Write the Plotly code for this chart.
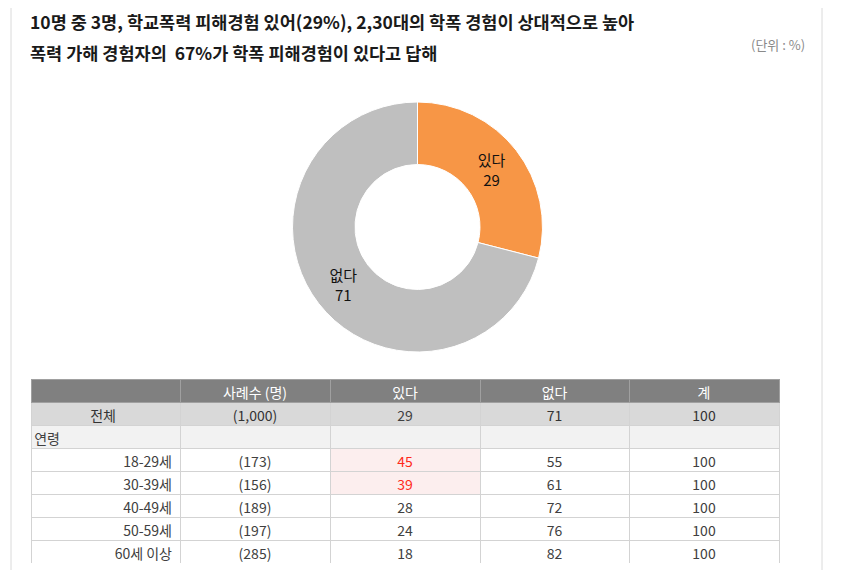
import plotly.graph_objects as go

# ---- data ----
pie_labels = ["있다", "없다"]
pie_values = [29, 71]
pie_colors = ["#F79646", "#BFBFBF"]

title_line1 = "10명 중 3명, 학교폭력 피해경험 있어(29%), 2,30대의 학폭 경험이 상대적으로 높아"
title_line2 = "폭력 가해 경험자의  67%가 학폭 피해경험이 있다고 답해"
unit_text = "(단위 : %)"

header = ["", "사례수 (명)", "있다", "없다", "계"]
row_labels = ["전체", "연령", "18-29세", "30-39세", "40-49세", "50-59세", "60세 이상"]
sample_sizes = ["(1,000)", "", "(173)", "(156)", "(189)", "(197)", "(285)"]
yes_vals = ["29", "", "45", "39", "28", "24", "18"]
no_vals = ["71", "", "55", "61", "72", "76", "82"]
total_vals = ["100", "", "100", "100", "100", "100", "100"]
highlight_rows = [2, 3]  # rows where 있다 is notably high

W, H = 850, 570
OFF = 8  # page body margin
FONT = "Noto Sans CJK KR"
SP = "\u3000"


def px(x):
    return (x - OFF) / W


def py(y):
    return 1 - (y - OFF) / H


fig = go.Figure()

fig.add_trace(go.Pie(
    labels=pie_labels, values=pie_values, hole=0.5, sort=False,
    direction="clockwise", rotation=0,
    marker=dict(colors=pie_colors, line=dict(color="white", width=1)),
    texttemplate="%{label}<br>%{value}", textposition="inside",
    insidetextorientation="horizontal",
    textfont=dict(family=FONT, size=15, color="#111111"),
    showlegend=False, hoverinfo="skip",
    domain=dict(x=[px(292), px(543)], y=[py(352), py(102)]),
))

n = len(row_labels)
row_fill = []
for i in range(n):
    if i == 0:
        row_fill.append("#D9D9D9")
    elif i == 1:
        row_fill.append("#F2F2F2")
    else:
        row_fill.append("#FFFFFF")
yes_fill = [("#FCEEEE" if i in highlight_rows else row_fill[i]) for i in range(n)]
yes_color = [("#FF2A1A" if i in highlight_rows else "#404040") for i in range(n)]
base_color = ["#333333" if i == 0 else "#404040" for i in range(n)]

# first column: all right-aligned, with ideographic-space padding for the
# centred total row and the left-aligned section row
first_col = [row_labels[0] + SP * 4, row_labels[1] + SP * 8] + row_labels[2:]

fig.add_trace(go.Table(
    domain=dict(x=[px(31), px(779)], y=[py(563), py(379)]),
    columnwidth=[149, 150, 150, 149, 150],
    header=dict(
        values=header, fill_color="#808080", line=dict(color="#A0A0A0", width=1),
        font=dict(family=FONT, size=14, color="white"), align="center", height=23,
    ),
    cells=dict(
        values=[first_col, sample_sizes, yes_vals, no_vals, total_vals],
        fill_color=[row_fill, row_fill, yes_fill, row_fill, row_fill],
        line=dict(color="#D3D3D3", width=1),
        font=dict(family=FONT, size=14,
                  color=[base_color, base_color, yes_color, base_color, base_color]),
        align=["right", "center", "center", "center", "center"],
        height=23,
    ),
))

# frame lines of the card
fig.add_shape(type="line", xref="paper", yref="paper", x0=px(11), x1=px(11), y0=0, y1=1,
              line=dict(color="#DADADA", width=1))
fig.add_shape(type="line", xref="paper", yref="paper", x0=px(822), x1=px(822), y0=0, y1=1,
              line=dict(color="#DADADA", width=1))

fig.add_annotation(text=title_line1, xref="paper", yref="paper", x=px(28), y=py(22),
                   xanchor="left", yanchor="middle", showarrow=False,
                   font=dict(family=FONT, size=17.5, color="#1A1A1A", weight="bold"))
fig.add_annotation(text=title_line2, xref="paper", yref="paper", x=px(28), y=py(52),
                   xanchor="left", yanchor="middle", showarrow=False,
                   font=dict(family=FONT, size=17.5, color="#1A1A1A", weight="bold"))
fig.add_annotation(text=unit_text, xref="paper", yref="paper", x=px(807), y=py(45),
                   xanchor="right", yanchor="middle", showarrow=False,
                   font=dict(family=FONT, size=13, color="#8A8A8A"))

fig.update_layout(width=W, height=H, margin=dict(l=0, r=0, t=0, b=0),
                  paper_bgcolor="white", plot_bgcolor="white")

fig.write_html("out.html")
